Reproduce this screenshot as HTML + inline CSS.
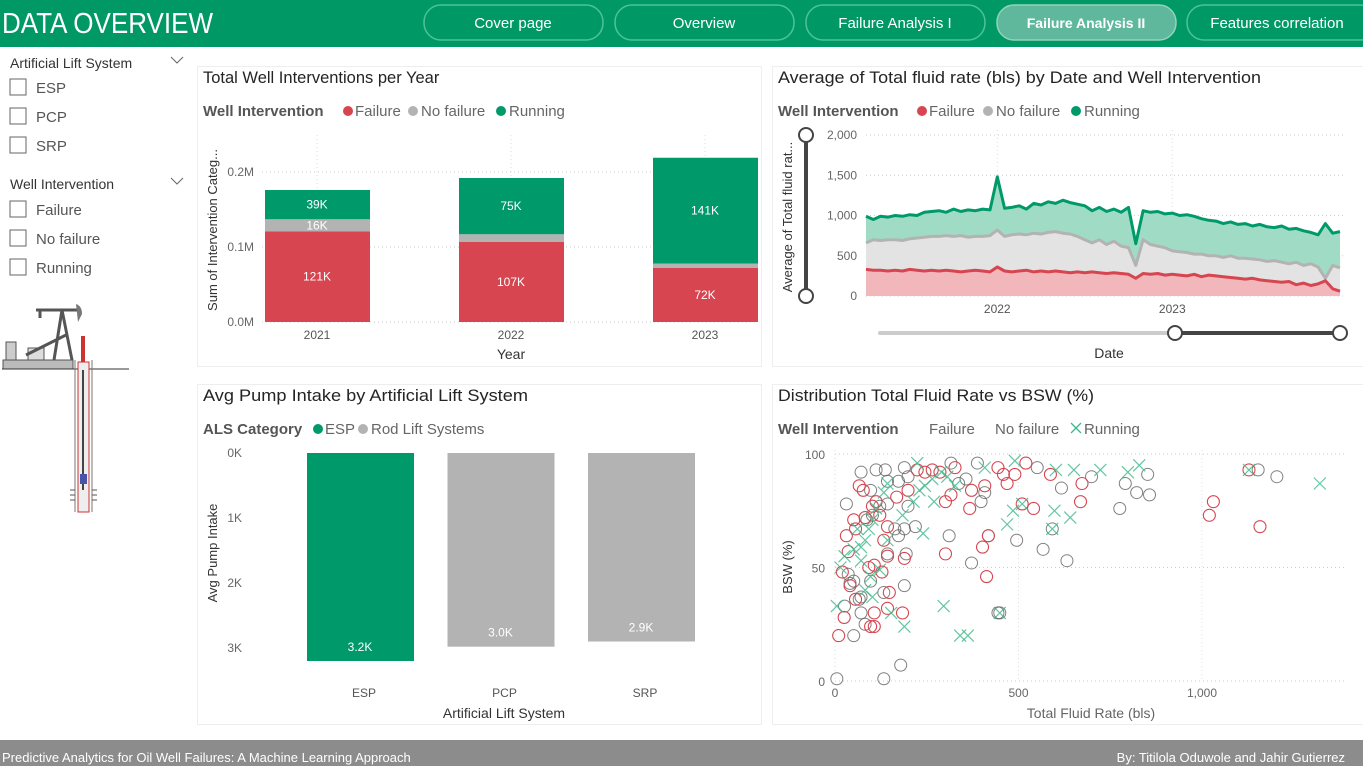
<!DOCTYPE html>
<html><head><meta charset="utf-8"><style>
body{margin:0;width:1363px;height:766px;overflow:hidden;background:#fff;font-family:"Liberation Sans",sans-serif}
svg text{font-family:"Liberation Sans",sans-serif}
</style></head><body>
<svg id="s" width="1363" height="766" viewBox="0 0 1363 766" xmlns="http://www.w3.org/2000/svg">
<rect x="0" y="0" width="1363" height="47" fill="#009966"/>
<text x="2" y="33" font-size="29" fill="#fff" textLength="211" lengthAdjust="spacingAndGlyphs">DATA OVERVIEW</text>
<g><rect x="424" y="5" width="179" height="35" rx="17" fill="none" stroke="#4fc199" stroke-width="1.5"/><text x="513" y="28" font-size="15" fill="#fff" text-anchor="middle">Cover page</text></g>
<g><rect x="615" y="5" width="179" height="35" rx="17" fill="none" stroke="#4fc199" stroke-width="1.5"/><text x="704" y="28" font-size="15" fill="#fff" text-anchor="middle">Overview</text></g>
<g><rect x="806" y="5" width="179" height="35" rx="17" fill="none" stroke="#4fc199" stroke-width="1.5"/><text x="895" y="28" font-size="15" fill="#fff" text-anchor="middle">Failure Analysis I</text></g>
<g><rect x="997" y="5" width="179" height="35" rx="17" fill="#5fb89c" stroke="#8fd4bb" stroke-width="1.5"/><text x="1086" y="28" font-size="14" fill="#fff" font-weight="bold" text-anchor="middle">Failure Analysis II</text></g>
<g><rect x="1187" y="5" width="190" height="35" rx="17" fill="none" stroke="#4fc199" stroke-width="1.5"/><text x="1277" y="28" font-size="15" fill="#fff" text-anchor="middle">Features correlation</text></g>

<g font-size="15" fill="#333">
<text x="10" y="68" font-size="14">Artificial Lift System</text><path d="M171 57l6 6 6-6" fill="none" stroke="#666"/>
<rect x="10" y="79" width="16" height="16" fill="none" stroke="#666"/><text x="36" y="93" fill="#555">ESP</text>
<rect x="10" y="108" width="16" height="16" fill="none" stroke="#666"/><text x="36" y="122" fill="#555">PCP</text>
<rect x="10" y="137" width="16" height="16" fill="none" stroke="#666"/><text x="36" y="151" fill="#555">SRP</text>
</g>
<g font-size="15" fill="#333">
<text x="10" y="189" font-size="14">Well Intervention</text><path d="M171 178l6 6 6-6" fill="none" stroke="#666"/>
<rect x="10" y="201" width="16" height="16" fill="none" stroke="#666"/><text x="36" y="215" fill="#555">Failure</text>
<rect x="10" y="230" width="16" height="16" fill="none" stroke="#666"/><text x="36" y="244" fill="#555">No failure</text>
<rect x="10" y="259" width="16" height="16" fill="none" stroke="#666"/><text x="36" y="273" fill="#555">Running</text>
</g>
<g>
<rect x="3" y="360" width="70" height="9" fill="#bbb" stroke="#555"/>
<rect x="6" y="342" width="10" height="18" fill="#ccc" stroke="#555"/>
<rect x="28" y="348" width="16" height="12" fill="#ddd" stroke="#555"/>
<path d="M36 310h42M40 310v8M62 310l-8 50M62 310l10 50M66 335l-40 20" stroke="#555" stroke-width="3" fill="none"/>
<path d="M76 304q6 2 6 10l-4 8z" fill="#777"/>
<line x1="2" y1="369" x2="129" y2="369" stroke="#333"/>
<rect x="81" y="336" width="4" height="34" fill="#c33"/>
<rect x="78" y="362" width="11" height="150" fill="#eee" stroke="#c33"/>
<line x1="83" y1="370" x2="83" y2="490" stroke="#444" stroke-width="2"/>
<rect x="80" y="474" width="7" height="10" fill="#45a"/>
<line x1="75" y1="360" x2="75" y2="512" stroke="#777"/><line x1="92" y1="360" x2="92" y2="512" stroke="#777"/>
<path d="M70 490h5M70 495h5M70 500h5M92 490h5M92 495h5M92 500h5" stroke="#555"/>
</g>

<g font-size="15"><rect x="197.5" y="66.5" width="564" height="300" fill="none" stroke="#eee"/>
<rect x="772.5" y="66.5" width="591" height="300" fill="none" stroke="#eee"/>
<rect x="197.5" y="384.5" width="564" height="340" fill="none" stroke="#eee"/>
<rect x="772.5" y="384.5" width="591" height="340" fill="none" stroke="#eee"/></g>

<text x="203" y="83" font-size="16.5" fill="#252423">Total Well Interventions per Year</text>
<text x="778" y="83" font-size="16.5" fill="#252423" textLength="483" lengthAdjust="spacingAndGlyphs">Average of Total fluid rate (bls) by Date and Well Intervention</text>
<text x="203" y="401" font-size="16.5" fill="#252423" textLength="325" lengthAdjust="spacingAndGlyphs">Avg Pump Intake by Artificial Lift System</text>
<text x="778" y="401" font-size="16.5" fill="#252423" textLength="316" lengthAdjust="spacingAndGlyphs">Distribution Total Fluid Rate vs BSW (%)</text>

<g font-size="15" fill="#666">
<text x="203" y="116" font-weight="bold" fill="#555">Well Intervention</text>
<circle cx="348" cy="111" r="5" fill="#d64550"/><text x="355" y="116">Failure</text>
<circle cx="413" cy="111" r="5" fill="#b3b3b3"/><text x="421" y="116">No failure</text>
<circle cx="501" cy="111" r="5" fill="#00996a"/><text x="509" y="116">Running</text></g>
<g font-size="15" fill="#666">
<text x="778" y="116" font-weight="bold" fill="#555">Well Intervention</text>
<circle cx="922" cy="111" r="5" fill="#d64550"/><text x="929" y="116">Failure</text>
<circle cx="988" cy="111" r="5" fill="#b3b3b3"/><text x="996" y="116">No failure</text>
<circle cx="1076" cy="111" r="5" fill="#00996a"/><text x="1084" y="116">Running</text></g>
<g font-size="15" fill="#666">
<text x="203" y="434" font-weight="bold" fill="#555">ALS Category</text>
<circle cx="318" cy="429" r="5" fill="#00996a"/><text x="325" y="434">ESP</text>
<circle cx="363" cy="429" r="5" fill="#b3b3b3"/><text x="371" y="434">Rod Lift Systems</text></g>
<g font-size="15" fill="#666">
<text x="778" y="434" font-weight="bold" fill="#555">Well Intervention</text>
<text x="929" y="434">Failure</text><text x="995" y="434">No failure</text>
<path d="M1071 423l10 10M1081 423l-10 10" stroke="#3cb88a" stroke-width="1.3"/><text x="1084" y="434">Running</text></g>

<g id="c1"></g><g id="c2"></g><g id="c3"></g><g id="c4"></g>

<rect x="0" y="740" width="1363" height="26" fill="#8c8c8c"/>
<text x="2" y="762" font-size="13" fill="#fff">Predictive Analytics for Oil Well Failures: A Machine Learning Approach</text>
<text x="1345" y="762" font-size="13" fill="#fff" text-anchor="end">By: Titilola Oduwole and Jahir Gutierrez</text>
</svg>
<script>
const NS="http://www.w3.org/2000/svg";
function mk(p,t,a,txt){const e=document.createElementNS(NS,t);for(const k in a)e.setAttribute(k,a[k]);if(txt!==undefined)e.textContent=txt;p.appendChild(e);return e;}
const RED="#d64550",GRAY="#b3b3b3",GREEN="#00996a";

// Chart 1 data
const years=["2021","2022","2023"];
const failureK=[121,107,72];
const noFailureK=[16,10,6];
const runningK=[39,75,141];
const c1Ticks=[0,100,200];
const c1TickLabels=["0.0M","0.1M","0.2M"];
// Chart 2 data (semi-monthly, Apr 2021 - Dec 2023)
const runningRate=[990,950,990,980,1000,990,1010,1000,1040,1050,1060,1040,1080,1050,1070,1060,1080,1070,1480,1090,1100,1120,1080,1150,1130,1170,1150,1190,1160,1140,1120,1060,1100,1050,1080,1040,1100,650,1060,1040,1050,1020,1030,1000,1010,990,960,940,930,900,920,890,900,870,890,860,850,870,830,840,810,790,760,900,780,800];
const noFailureRate=[660,700,690,700,700,690,710,720,730,740,740,750,740,750,730,740,740,750,820,740,760,770,760,780,770,790,800,780,770,740,700,660,700,640,680,620,600,380,700,640,620,600,560,550,540,520,520,500,500,480,500,470,470,460,450,430,440,420,400,420,380,400,360,220,380,350];
const failureRate=[330,320,320,310,320,310,330,320,310,320,310,320,310,300,310,320,310,300,360,310,300,310,320,300,310,300,310,300,290,300,290,300,290,280,290,280,270,220,280,270,280,260,270,260,250,270,240,260,250,240,230,220,210,220,200,190,180,170,180,140,160,130,150,190,90,60];
const c2Ticks=[0,500,1000,1500,2000];
const c2TickLabels=["0","500","1,000","1,500","2,000"];
const c2Years=["2022","2023"];
const c2YearIdx=[18,42];
// Chart 3 data
const alsCats=["ESP","PCP","SRP"];
const pumpIntakeK=[3.2,2.98,2.9];
const pumpLabels=["3.2K","3.0K","2.9K"];
const c3Ticks=[0,1,2,3];
const c3TickLabels=["0K","1K","2K","3K"];
// Chart 4 data [rate, bsw]
const failurePts=[[10,20],[25,28],[20,48],[36,57],[31,64],[56,67],[51,71],[66,86],[77,84],[102,77],[112,79],[122,73],[143,68],[133,62],[143,55],[128,48],[107,51],[92,50],[107,30],[97,24],[107,24],[148,39],[143,32],[184,30],[189,54],[168,81],[199,84],[224,93],[245,92],[265,93],[286,92],[301,79],[316,82],[327,94],[301,56],[367,76],[372,84],[402,59],[413,46],[418,64],[408,86],[444,94],[459,91],[469,87],[490,91],[520,96],[510,78],[541,76],[587,91],[669,79],[673,87],[1020,73],[1031,79],[1128,93],[1158,68],[82,72],[56,36],[41,42]];
const noFailurePts=[[5,1],[133,1],[179,7],[51,20],[82,25],[71,30],[26,33],[41,43],[51,44],[66,36],[71,37],[36,47],[97,44],[133,39],[189,42],[143,56],[194,56],[173,64],[189,67],[219,68],[163,67],[31,78],[71,92],[112,93],[137,93],[97,84],[122,77],[143,78],[143,88],[173,88],[189,94],[199,77],[199,90],[87,71],[102,73],[311,64],[316,96],[337,87],[372,52],[357,89],[388,96],[398,79],[408,83],[418,64],[495,62],[551,94],[567,58],[592,67],[617,85],[632,53],[699,90],[449,30],[444,30],[776,76],[791,87],[822,83],[852,91],[857,82],[1153,93],[1204,90]];
const runningPts=[[5,33],[26,55],[51,58],[71,59],[82,62],[61,67],[92,67],[102,71],[112,76],[133,83],[143,87],[71,53],[97,46],[102,37],[82,40],[122,49],[153,30],[189,24],[143,62],[184,73],[214,79],[230,84],[245,86],[265,89],[240,65],[224,96],[270,79],[290,92],[306,90],[327,86],[296,33],[341,20],[362,20],[449,30],[469,69],[485,75],[490,97],[510,78],[598,75],[602,93],[641,72],[651,93],[723,93],[798,92],[829,95],[1128,93],[1321,87],[592,67],[408,94],[15,50]];
const c4XTicks=[0,500,1000];
const c4XLabels=["0","500","1,000"];
const c4YTicks=[0,50,100];

// ---- Chart 1
(function(){
const g=document.getElementById('c1');
const y=v=>322-v*0.75; const xc=i=>317+i*194;
c1Ticks.forEach((t,i)=>{mk(g,'line',{x1:262,x2:757,y1:y(t),y2:y(t),stroke:"#ccc","stroke-dasharray":"1 3"});
const l=mk(g,'text',{x:254,y:y(t)+4,"font-size":12,fill:"#666","text-anchor":"end"},c1TickLabels[i]);});
years.forEach((yr,i)=>{mk(g,'line',{x1:xc(i),x2:xc(i),y1:135,y2:322,stroke:"#ddd","stroke-dasharray":"1 3"});});
years.forEach((yr,i)=>{const x0=xc(i)-52;let base=0;
[[failureK,RED,'bar-failure'],[noFailureK,GRAY,'bar-no-failure'],[runningK,GREEN,'bar-running']].forEach(([arr,col,nm])=>{
const v=arr[i];const r=mk(g,'rect',{x:x0,y:y(base+v),width:105,height:v*0.75,fill:col});

if(v*0.75>=11){const t=mk(g,'text',{x:xc(i),y:y(base+v/2)+4,"font-size":12,fill:"#fff","text-anchor":"middle"},v+"K");
}base+=v;});
const xl=mk(g,'text',{x:xc(i),y:339,"font-size":12,fill:"#555","text-anchor":"middle"},yr);});
const xt=mk(g,'text',{x:511,y:359,"font-size":14,fill:"#333","text-anchor":"middle"},"Year");
const yt=mk(g,'text',{x:0,y:0,"font-size":13,fill:"#333","text-anchor":"middle",transform:"translate(217,230) rotate(-90)"},"Sum of Intervention Categ...");
})();

// ---- Chart 2
(function(){
const g=document.getElementById('c2');
const n=runningRate.length;const x=i=>866+i*(474/(n-1));const y=v=>296-v*0.0805;
c2Ticks.forEach((t,i)=>{mk(g,'line',{x1:866,x2:1345,y1:y(t),y2:y(t),stroke:"#ccc","stroke-dasharray":"1 3"});
const l=mk(g,'text',{x:857,y:y(t)+4,"font-size":12,fill:"#666","text-anchor":"end"},c2TickLabels[i]);});
c2Years.forEach((yr,i)=>{mk(g,'line',{x1:x(c2YearIdx[i]),x2:x(c2YearIdx[i]),y1:130,y2:296,stroke:"#ddd","stroke-dasharray":"1 3"});
const l=mk(g,'text',{x:x(c2YearIdx[i]),y:313,"font-size":12,fill:"#555","text-anchor":"middle"},yr);});
[[runningRate,GREEN,"#a0dcc5",'line-running'],[noFailureRate,GRAY,"#e3e3e3",'line-no-failure'],[failureRate,RED,"#f2b7bb",'line-failure']].forEach(([arr,col,fill,nm])=>{
let d=arr.map((v,i)=>(i?'L':'M')+x(i).toFixed(1)+' '+y(v).toFixed(1)).join('');
const a=mk(g,'path',{d:d+`L${x(n-1)} ${y(0)}L${x(0)} ${y(0)}Z`,fill:fill});
const p=mk(g,'path',{d:d,fill:"none",stroke:col,"stroke-width":3,"stroke-linejoin":"round"});
});
const ys=mk(g,'g',{});
mk(ys,'line',{x1:806,x2:806,y1:135,y2:296,stroke:"#444","stroke-width":4});
mk(ys,'circle',{cx:806,cy:135,r:7,fill:"#fff",stroke:"#444","stroke-width":2});mk(ys,'circle',{cx:806,cy:296,r:7,fill:"#fff",stroke:"#444","stroke-width":2});
const xs=mk(g,'g',{});
mk(xs,'line',{x1:880,x2:1175,y1:333,y2:333,stroke:"#ccc","stroke-width":4,"stroke-linecap":"round"});
mk(xs,'line',{x1:1175,x2:1340,y1:333,y2:333,stroke:"#444","stroke-width":4});
mk(xs,'circle',{cx:1175,cy:333,r:7,fill:"#fff",stroke:"#444","stroke-width":2});mk(xs,'circle',{cx:1340,cy:333,r:7,fill:"#fff",stroke:"#444","stroke-width":2});
const xt=mk(g,'text',{x:1109,y:358,"font-size":14,fill:"#333","text-anchor":"middle"},"Date");
const yt=mk(g,'text',{x:0,y:0,"font-size":13,fill:"#333","text-anchor":"middle",transform:"translate(792,217) rotate(-90)"},"Average of Total fluid rat...");
})();

// ---- Chart 3
(function(){
const g=document.getElementById('c3');
const y=v=>453+v*65;const xc=i=>360+i*140.5;
c3Ticks.forEach((t,i)=>{const l=mk(g,'text',{x:242,y:y(t)+4,"font-size":12,fill:"#666","text-anchor":"end"},c3TickLabels[i]);});
alsCats.forEach((c,i)=>{const r=mk(g,'rect',{x:xc(i)-53,y:453,width:107,height:pumpIntakeK[i]*65,fill:i===0?GREEN:GRAY});

const t=mk(g,'text',{x:xc(i),y:y(pumpIntakeK[i])-10,"font-size":12,fill:"#fff","text-anchor":"middle"},pumpLabels[i]);
const l=mk(g,'text',{x:xc(i)+4,y:697,"font-size":12,fill:"#555","text-anchor":"middle"},c);});
const xt=mk(g,'text',{x:504,y:718,"font-size":14,fill:"#333","text-anchor":"middle"},"Artificial Lift System");
const yt=mk(g,'text',{x:0,y:0,"font-size":13,fill:"#333","text-anchor":"middle",transform:"translate(217,553) rotate(-90)"},"Avg Pump Intake");
})();

// ---- Chart 4
(function(){
const g=document.getElementById('c4');
const x=v=>835+v*0.367;const y=v=>681-v*2.27;
c4YTicks.forEach(t=>{mk(g,'line',{x1:835,x2:1345,y1:y(t),y2:y(t),stroke:"#ccc","stroke-dasharray":"1 3"});
const l=mk(g,'text',{x:825,y:y(t)+5,"font-size":12,fill:"#666","text-anchor":"end"},String(t));});
c4XTicks.forEach((t,i)=>{mk(g,'line',{x1:x(t),x2:x(t),y1:450,y2:681,stroke:"#ddd","stroke-dasharray":"1 3"});
const l=mk(g,'text',{x:x(t),y:697,"font-size":12,fill:"#666","text-anchor":"middle"},c4XLabels[i]);});
noFailurePts.forEach(p=>{const c=mk(g,'circle',{cx:x(p[0]),cy:y(p[1]),r:6,fill:"none",stroke:"#555","stroke-opacity":0.75,"stroke-width":1});});
failurePts.forEach(p=>{const c=mk(g,'circle',{cx:x(p[0]),cy:y(p[1]),r:6,fill:"none",stroke:RED,"stroke-width":1.1});});
runningPts.forEach(p=>{const cx=x(p[0]),cy=y(p[1]);const c=mk(g,'path',{d:`M${cx-6} ${cy-6}L${cx+6} ${cy+6}M${cx+6} ${cy-6}L${cx-6} ${cy+6}`,stroke:"#3cb88a","stroke-opacity":0.8,"stroke-width":1.2});});
const xt=mk(g,'text',{x:1091,y:718,"font-size":14,fill:"#666","text-anchor":"middle"},"Total Fluid Rate (bls)");
const yt=mk(g,'text',{x:0,y:0,"font-size":13,fill:"#333","text-anchor":"middle",transform:"translate(792,567) rotate(-90)"},"BSW (%)");
})();
</script>
</body></html>
